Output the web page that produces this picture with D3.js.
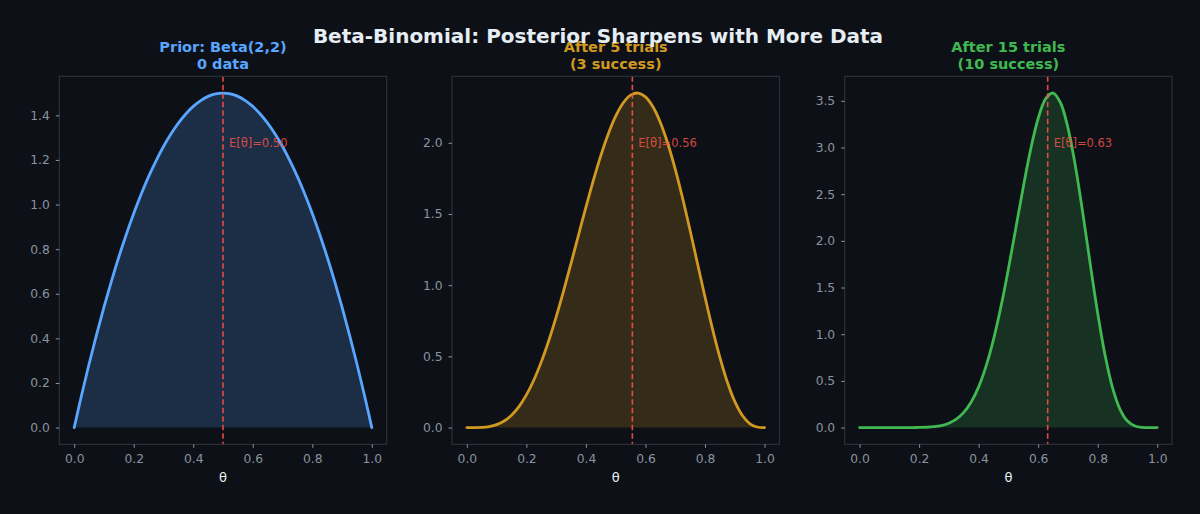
<!DOCTYPE html>
<html lang="en">
<head>
<meta charset="UTF-8">
<title>Beta-Binomial posterior</title>
<script src="https://d3js.org/d3.v7.min.js"></script>
<style>
  body { margin: 0; background: #0d1117; }
  svg { display: block; font-family: "DejaVu Sans", sans-serif; }
</style>
</head>
<body>
<script>
// values
const theta = [0, 0.025, 0.05, 0.075, 0.1, 0.125, 0.15, 0.175, 0.2, 0.225, 0.25, 0.275, 0.3, 0.325,
               0.35, 0.375, 0.4, 0.425, 0.45, 0.475, 0.5, 0.525, 0.55, 0.575, 0.6, 0.625, 0.65, 0.675,
               0.7, 0.725, 0.75, 0.775, 0.8, 0.825, 0.85, 0.875, 0.9, 0.925, 0.95, 0.975, 1];
const priorDensity = [0, 0.146, 0.285, 0.416, 0.54, 0.656, 0.765, 0.866, 0.96, 1.046, 1.125, 1.196, 1.26, 1.316,
                      1.365, 1.406, 1.44, 1.466, 1.485, 1.496, 1.5, 1.496, 1.485, 1.466, 1.44, 1.406, 1.365, 1.316,
                      1.26, 1.196, 1.125, 1.046, 0.96, 0.866, 0.765, 0.656, 0.54, 0.416, 0.285, 0.146, 0];
const after5Density = [0, 0.0001, 0.0015, 0.007, 0.0204, 0.0458, 0.0871, 0.1475, 0.2294, 0.334, 0.4614, 0.6102, 0.7779, 0.9608,
                       1.1539, 1.3518, 1.5483, 1.7367, 1.9103, 2.0626, 2.1875, 2.2797, 2.3348, 2.3496, 2.3224, 2.253, 2.143, 1.9954,
                       1.8152, 1.6088, 1.3843, 1.1506, 0.9175, 0.6952, 0.4933, 0.3206, 0.1837, 0.0865, 0.0285, 0.004, 0];
const after15Density = [0, 0, 0, 0, 0, 0, 0.0001, 0.0003, 0.0012, 0.0036, 0.0095, 0.022, 0.0464, 0.09,
                        0.1622, 0.2738, 0.4359, 0.6579, 0.9449, 1.2954, 1.6996, 2.1368, 2.577, 2.9821, 3.3104, 3.5214, 3.5835, 3.4794,
                        3.2111, 2.8027, 2.297, 1.751, 1.2247, 0.771, 0.4246, 0.1956, 0.0699, 0.0168, 0.002, 0, 0];
const titles = [["Prior: Beta(2,2)", "0 data"], ["After 5 trials", "(3 success)"], ["After 15 trials", "(10 success)"]];
const means = [0.5, 0.556, 0.632];
const yTickSteps = [0.2, 0.5, 0.5];
const colors = ["#58a6ff", "#d29922", "#3fb950"];

const width = 1200, height = 514;
const svg = d3.select("body").append("svg")
    .attr("width", width)
    .attr("height", height)
    .style("background", "#0d1117");

const series = [priorDensity, after5Density, after15Density];
const panelW = 327.4, plotTop = 76.3, plotBottom = 444.3;

series.forEach((dens, i) => {
    const left = 59.3 + i * 392.7;
    const g = svg.append("g");

    const x = d3.scaleLinear().domain([-0.05, 1.05]).range([left, left + panelW]);
    const ymax = d3.max(dens);
    const y = d3.scaleLinear().domain([-0.05 * ymax, 1.05 * ymax]).range([plotBottom, plotTop]);

    const pts = theta.map((t, k) => [t, dens[k]]);
    const curve = d3.curveCatmullRom.alpha(0.5);

    g.append("path")
        .datum(pts)
        .attr("d", d3.area().x(d => x(d[0])).y0(y(0)).y1(d => y(d[1])).curve(curve))
        .attr("fill", colors[i]).attr("fill-opacity", 0.2);

    g.append("path")
        .datum(pts)
        .attr("d", d3.line().x(d => x(d[0])).y(d => y(d[1])).curve(curve))
        .attr("fill", "none").attr("stroke", colors[i]).attr("stroke-width", 2.8)
        .attr("stroke-linejoin", "round").attr("stroke-linecap", "round");

    // mean line
    g.append("line")
        .attr("x1", x(means[i])).attr("x2", x(means[i]))
        .attr("y1", plotTop).attr("y2", plotBottom)
        .attr("stroke", "#f85149").attr("stroke-width", 1.6)
        .attr("stroke-dasharray", "5.5,3").attr("opacity", 0.9);

    g.append("text")
        .attr("x", x(means[i] + 0.02)).attr("y", y(0.85 * ymax))
        .attr("dy", "0.35em")
        .attr("fill", "#f85149").attr("fill-opacity", 0.85)
        .attr("font-size", 11.5)
        .text("E[θ]=" + means[i].toFixed(2));

    // frame
    g.append("rect")
        .attr("x", left).attr("y", plotTop)
        .attr("width", panelW).attr("height", plotBottom - plotTop)
        .attr("fill", "none").attr("stroke", "#30363d").attr("stroke-width", 1);

    const xAxis = g.append("g")
        .attr("transform", `translate(0,${plotBottom})`)
        .call(d3.axisBottom(x).tickValues([0, 0.2, 0.4, 0.6, 0.8, 1]).tickFormat(d3.format(".1f"))
            .tickSize(3.5).tickPadding(6));

    const yt = d3.range(0, ymax + 1e-9, yTickSteps[i]);
    const yAxis = g.append("g")
        .attr("transform", `translate(${left},0)`)
        .call(d3.axisLeft(y).tickValues(yt).tickFormat(d3.format(".1f"))
            .tickSize(3.5).tickPadding(6));

    [xAxis, yAxis].forEach(a => {
        a.select(".domain").remove();
        a.selectAll("line").attr("stroke", "#8b949e");
        a.selectAll("text").attr("fill", "#8b949e").attr("font-size", 12.3)
            .attr("font-family", "DejaVu Sans, sans-serif");
    });

    g.append("text")
        .attr("x", left + panelW / 2).attr("y", 482)
        .attr("text-anchor", "middle")
        .attr("fill", "#e6edf3").attr("font-size", 13)
        .text("θ");

    titles[i].forEach((t, k) => {
        g.append("text")
            .attr("x", left + panelW / 2).attr("y", 52 + k * 17)
            .attr("text-anchor", "middle")
            .attr("fill", colors[i])
            .attr("font-size", 14.5).attr("font-weight", "bold")
            .text(t);
    });
});

// suptitle drawn last, over the middle panel title as in the original
svg.append("text")
    .attr("x", 598).attr("y", 43)
    .attr("text-anchor", "middle")
    .attr("fill", "#e6edf3")
    .attr("font-size", 20).attr("font-weight", "bold")
    .text("Beta-Binomial: Posterior Sharpens with More Data");
</script>
</body>
</html>
